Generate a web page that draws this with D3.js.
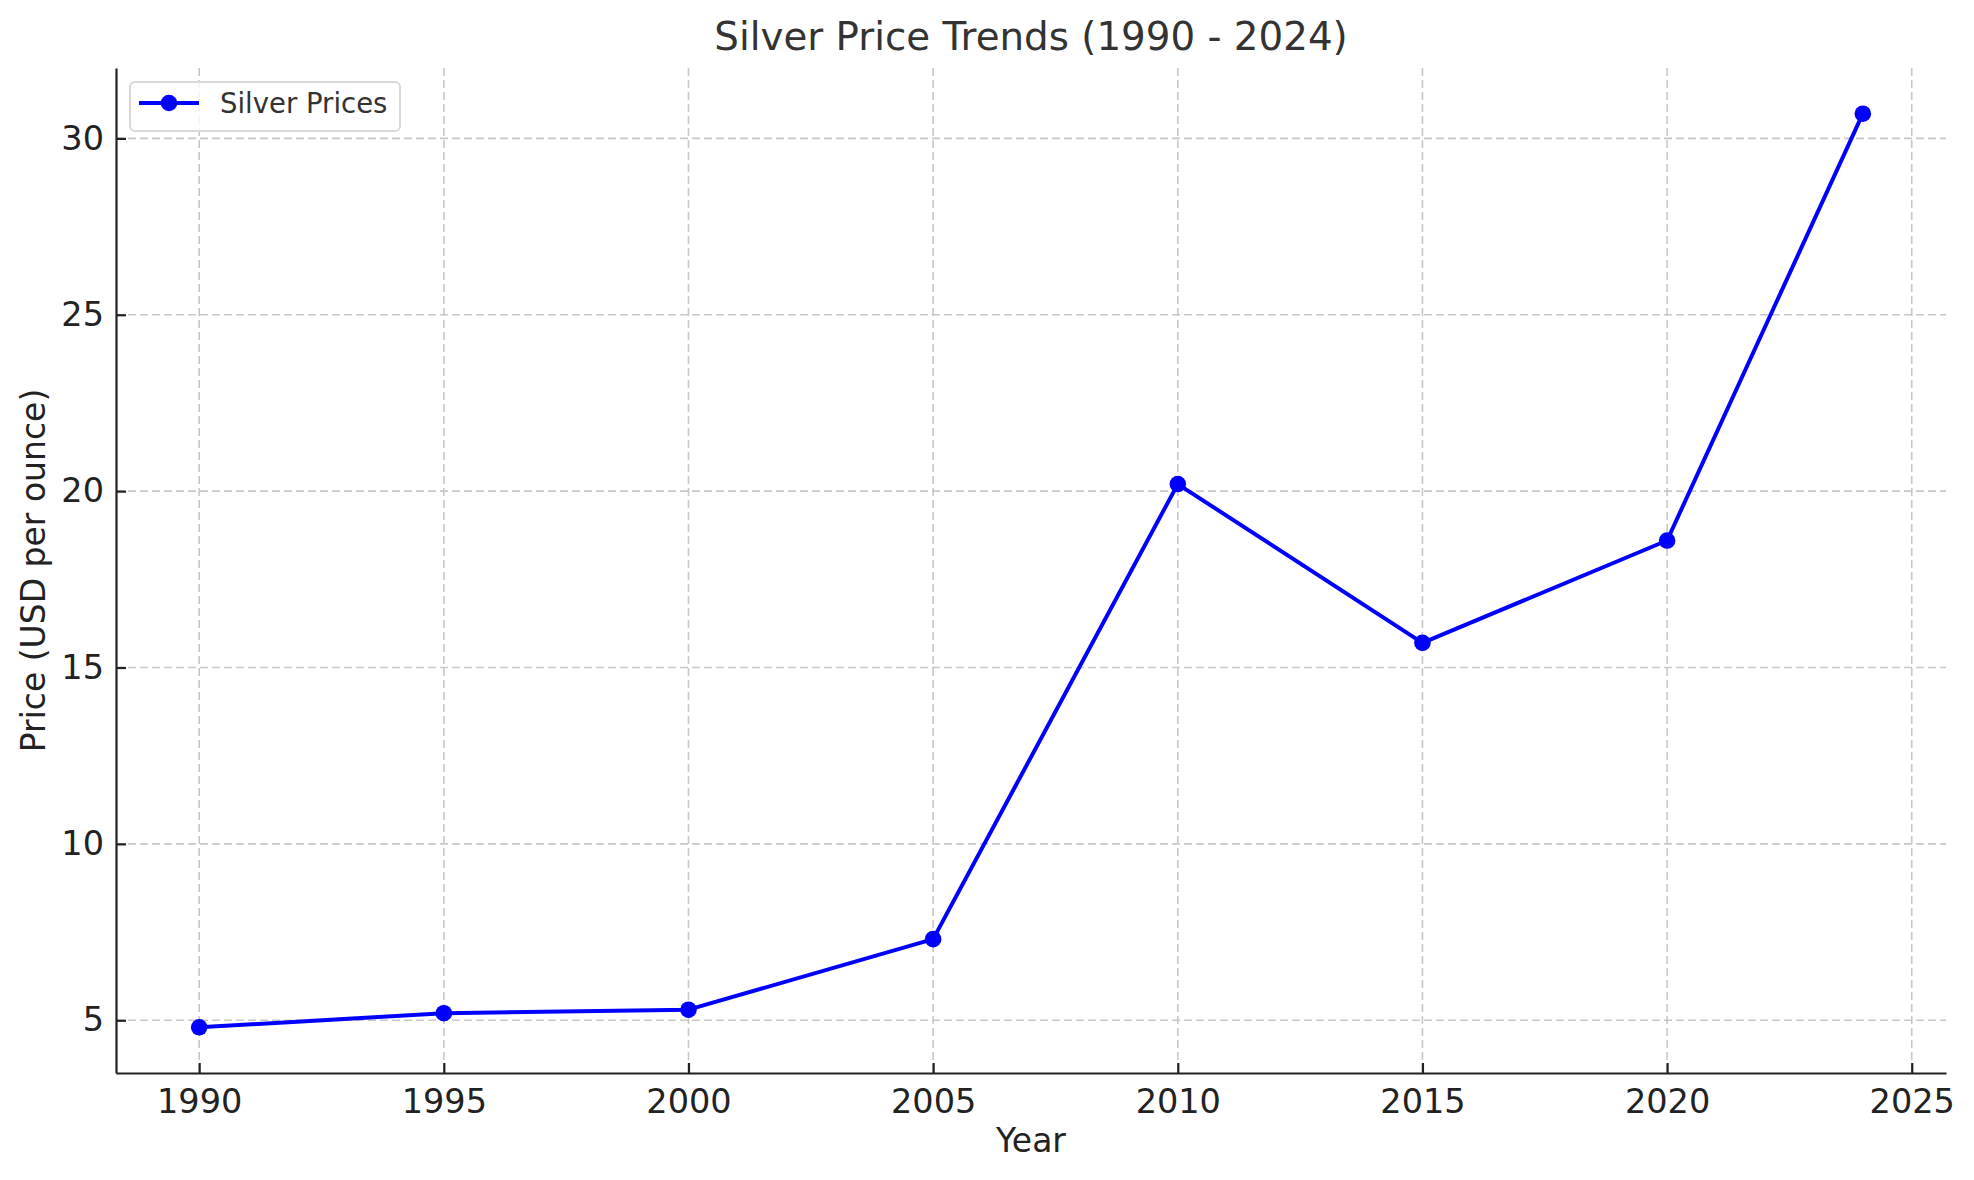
<!DOCTYPE html>
<meta charset="utf-8">
<style>
  body { margin: 0; background: #fff; }
  text { font-family: "DejaVu Sans", sans-serif; }
</style>
<body>
<svg width="1974" height="1180"></svg>
<script src="https://d3js.org/d3.v7.min.js"></script>
<script>

var years = [1990, 1995, 2000, 2005, 2010, 2015, 2020, 2024];
var prices = [4.8, 5.2, 5.3, 7.3, 20.2, 15.7, 18.6, 30.7];
var xTicks = [1990, 1995, 2000, 2005, 2010, 2015, 2020, 2025];
var yTicks = [5, 10, 15, 20, 25, 30];

var svg = d3.select("svg"),
    margin = {top: 68, right: 28, bottom: 107, left: 116},
    width = +svg.attr("width") - margin.left - margin.right,
    height = +svg.attr("height") - margin.top - margin.bottom;

var data = years.map(function(y, i) { return {year: y, price: prices[i]}; });

// matplotlib style 5% padding around data
function padded(ext) {
  var p = (ext[1] - ext[0]) * 0.05;
  return [ext[0] - p, ext[1] + p];
}

var x = d3.scaleLinear().domain(padded(d3.extent(years))).range([0, width]);
var y = d3.scaleLinear().domain(padded(d3.extent(prices))).range([height, 0]);

var g = svg.append("g").attr("transform", "translate(" + margin.left + "," + margin.top + ")");

// grid
g.append("g").selectAll("line").data(xTicks).enter().append("line")
    .attr("x1", d => x(d)).attr("x2", d => x(d))
    .attr("y1", 0).attr("y2", height)
    .attr("stroke", "#c8c8c8").attr("stroke-width", 1.6).attr("stroke-dasharray", "8,4");
g.append("g").selectAll("line").data(yTicks).enter().append("line")
    .attr("y1", d => y(d)).attr("y2", d => y(d))
    .attr("x1", 0).attr("x2", width)
    .attr("stroke", "#c8c8c8").attr("stroke-width", 1.6).attr("stroke-dasharray", "8,4");

// axes
var xAxis = g.append("g")
    .attr("transform", "translate(0," + height + ")")
    .call(d3.axisBottom(x).tickValues(xTicks).tickFormat(d3.format("d")).tickSizeInner(-10).tickSizeOuter(0).tickPadding(12));
var yAxis = g.append("g")
    .call(d3.axisLeft(y).tickValues(yTicks).tickSizeInner(-10).tickSizeOuter(0).tickPadding(12));

[xAxis, yAxis].forEach(function(a) {
  a.select(".domain").attr("stroke", "#222").attr("stroke-width", 2.2);
  a.selectAll(".tick line").attr("stroke", "#222").attr("stroke-width", 2.2);
  a.selectAll(".tick text").attr("fill", "#222").style("font-size", "33.5px").style("font-family", "DejaVu Sans");
});
xAxis.selectAll(".tick text").attr("dy", "0.85em");

// line
var line = d3.line().x(d => x(d.year)).y(d => y(d.price));
g.append("path").datum(data)
    .attr("fill", "none").attr("stroke", "#0000ff").attr("stroke-width", 4)
    .attr("stroke-linejoin", "round")
    .attr("d", line);
g.append("g").selectAll("circle").data(data).enter().append("circle")
    .attr("cx", d => x(d.year)).attr("cy", d => y(d.price))
    .attr("r", 8.3).attr("fill", "#0000ff");

// title and labels
svg.append("text")
    .attr("x", margin.left + width / 2).attr("y", 50)
    .attr("text-anchor", "middle").attr("fill", "#333")
    .style("font-size", "38.8px")
    .text("Silver Price Trends (1990 - 2024)");
svg.append("text")
    .attr("x", margin.left + width / 2).attr("y", 1152)
    .attr("text-anchor", "middle").attr("fill", "#222")
    .style("font-size", "33px")
    .text("Year");
svg.append("text")
    .attr("transform", "translate(45," + (margin.top + height / 2) + ") rotate(-90)")
    .attr("text-anchor", "middle").attr("fill", "#222")
    .style("font-size", "33px")
    .text("Price (USD per ounce)");

// legend
var lg = svg.append("g").attr("transform", "translate(130,82)");
lg.append("rect")
    .attr("width", 270).attr("height", 49).attr("rx", 5)
    .attr("fill", "#fff").attr("fill-opacity", 0.8)
    .attr("stroke", "#d9d9d9").attr("stroke-width", 2);
lg.append("line")
    .attr("x1", 9).attr("x2", 69).attr("y1", 21).attr("y2", 21)
    .attr("stroke", "#0000ff").attr("stroke-width", 4);
lg.append("circle").attr("cx", 39).attr("cy", 21).attr("r", 8.3).attr("fill", "#0000ff");
lg.append("text")
    .attr("x", 90).attr("y", 31)
    .attr("fill", "#333").style("font-size", "27.5px")
    .text("Silver Prices");

</script>
</body>
